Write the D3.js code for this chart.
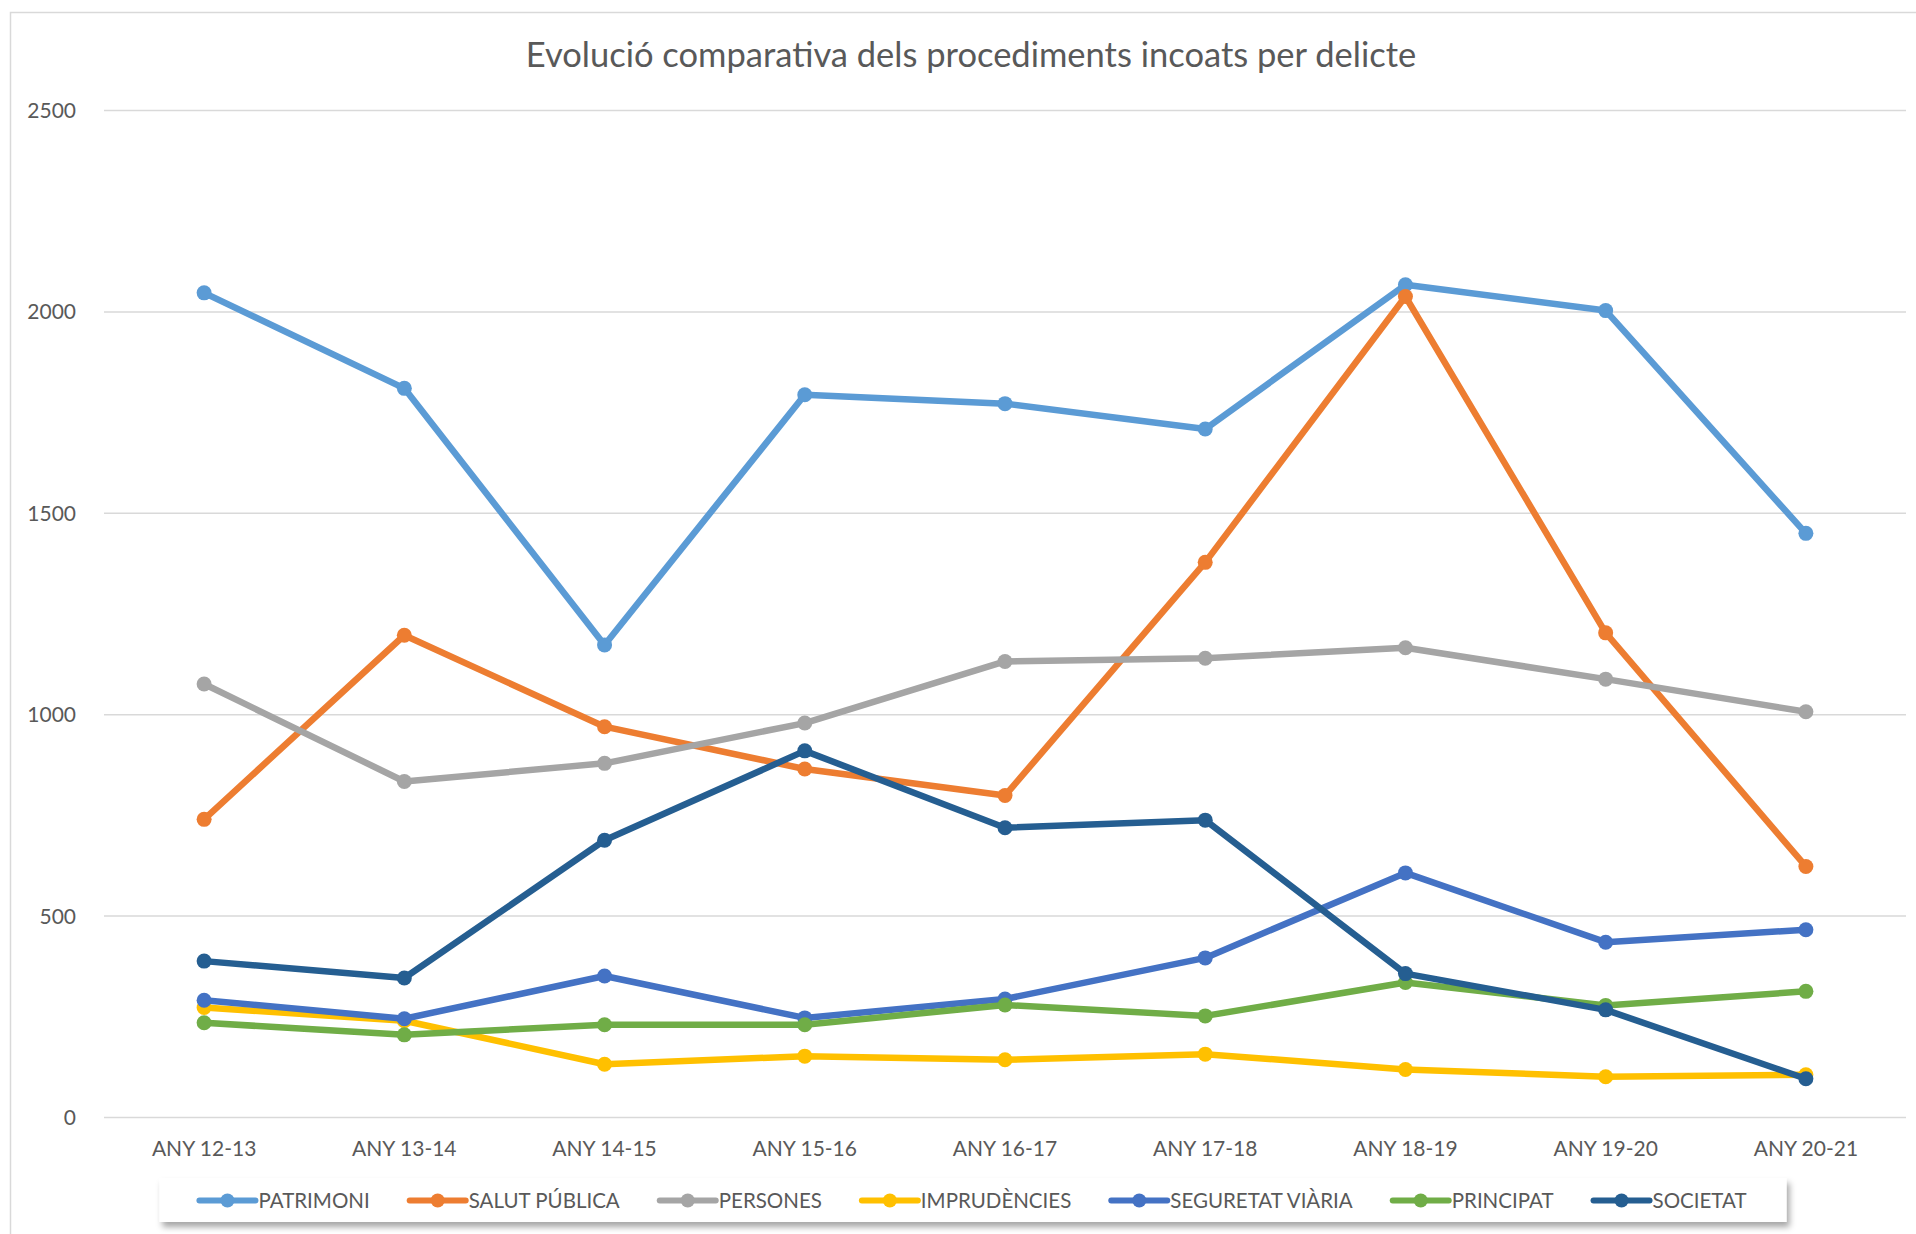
<!DOCTYPE html>
<html>
<head>
<meta charset="utf-8">
<script src="https://cdn.jsdelivr.net/npm/d3@7"></script>
<style>
  body { margin: 0; background: #fff; }
  text { font-family: Lato, "Open Sans", sans-serif; fill: #595959; }
</style>
</head>
<body>
<svg id="chart"></svg>
<script>
// categories (school years) and one array per offence type
const years = ["ANY 12-13", "ANY 13-14", "ANY 14-15", "ANY 15-16", "ANY 16-17", "ANY 17-18", "ANY 18-19", "ANY 19-20", "ANY 20-21"];

const patrimoni = [2046, 1809, 1172, 1793, 1771, 1708, 2066, 2002, 1449];
const salutPublica = [739, 1196, 969, 864, 798, 1377, 2037, 1202, 622];
const persones = [1075, 833, 878, 978, 1131, 1139, 1165, 1087, 1006];
const imprudencies = [272, 239, 131, 151, 142, 156, 118, 100, 105];
const seguretatViaria = [290, 244, 350, 246, 293, 395, 606, 434, 465];
const principat = [234, 204, 229, 229, 278, 251, 334, 277, 312];
const societat = [387, 345, 687, 909, 718, 737, 356, 266, 95];

const seriesNames = ["PATRIMONI", "SALUT PÚBLICA", "PERSONES", "IMPRUDÈNCIES", "SEGURETAT VIÀRIA", "PRINCIPAT", "SOCIETAT"];
const seriesValues = [patrimoni, salutPublica, persones, imprudencies, seguretatViaria, principat, societat];
const seriesColors = ["#5B9BD5", "#ED7D31", "#A5A5A5", "#FFC000", "#4472C4", "#70AD47", "#255E91"];

const yTicks = [0, 500, 1000, 1500, 2000, 2500];

const series = seriesNames.map((name, i) => ({
    name: name,
    color: seriesColors[i],
    values: seriesValues[i].map((v, j) => ({ year: years[j], value: v }))
}));

// dimensions
const W = 1916, H = 1234;
const plot = { left: 104, right: 1906, top: 110, bottom: 1117 };

const svg = d3.select("#chart")
    .attr("width", W)
    .attr("height", H);

svg.append("rect")
    .attr("width", W).attr("height", H)
    .attr("fill", "#fff");

// chart area border (runs off the right and bottom edge)
svg.append("rect")
    .attr("x", 10.5).attr("y", 12.5)
    .attr("width", 1930).attr("height", 1240)
    .attr("fill", "none")
    .attr("stroke", "#D9D9D9")
    .attr("stroke-width", 1.5);

// title
svg.append("text")
    .attr("x", 971)
    .attr("y", 67)
    .attr("text-anchor", "middle")
    .style("font-size", "34.5px")
    .text("Evolució comparativa dels procediments incoats per delicte");

// scales
const x = d3.scaleBand()
    .domain(years)
    .range([plot.left, plot.right])
    .padding(0);

const y = d3.scaleLinear()
    .domain([0, 2500])
    .range([plot.bottom, plot.top]);

const xc = d => x(d) + x.bandwidth() / 2;

// y axis with gridlines
const yAxis = svg.append("g")
    .attr("transform", `translate(${plot.left},0)`)
    .call(d3.axisLeft(y).tickValues(yTicks).tickFormat(d3.format("d"))
        .tickSize(-(plot.right - plot.left)).tickPadding(28));
yAxis.select(".domain").remove();
yAxis.selectAll("line").attr("stroke", "#D9D9D9").attr("stroke-width", 1.5);
yAxis.selectAll("text").attr("fill", "#595959").style("font-size", "21px")
    .style("font-family", "Lato, 'Open Sans', sans-serif").attr("dy", "0.36em");

// x axis labels
const xAxis = svg.append("g")
    .attr("transform", `translate(0,${plot.bottom})`)
    .call(d3.axisBottom(x).tickSize(0).tickPadding(24));
xAxis.select(".domain").remove();
xAxis.selectAll("text").attr("fill", "#595959").style("font-size", "21px")
    .style("font-family", "Lato, 'Open Sans', sans-serif");

// lines
const line = d3.line()
    .x(d => xc(d.year))
    .y(d => y(d.value));

const seriesG = svg.append("g")
    .selectAll("g")
    .data(series)
    .join("g");

seriesG.append("path")
    .attr("d", d => line(d.values))
    .attr("fill", "none")
    .attr("stroke", d => d.color)
    .attr("stroke-width", 6.5)
    .attr("stroke-linejoin", "round")
    .attr("stroke-linecap", "round");

seriesG.selectAll("circle")
    .data(d => d.values.map(v => ({ ...v, color: d.color })))
    .join("circle")
    .attr("cx", d => xc(d.year))
    .attr("cy", d => y(d.value))
    .attr("r", 7.5)
    .attr("fill", d => d.color);

// legend
const defs = svg.append("defs");
const shadow = defs.append("filter").attr("id", "shadow")
    .attr("x", "-5%").attr("y", "-30%").attr("width", "110%").attr("height", "180%");
shadow.append("feDropShadow")
    .attr("dx", 3).attr("dy", 5).attr("stdDeviation", 3)
    .attr("flood-color", "#000").attr("flood-opacity", 0.35);

const legendBox = svg.append("rect")
    .attr("fill", "#fff")
    .attr("filter", "url(#shadow)");

const legend = svg.append("g");
const legendY = 1200.5;
const lineLen = 56, textGap = 3, itemGap = 40;
let cumulativeWidth = 0;

legend.selectAll("g")
    .data(series)
    .join("g")
    .each(function (d) {
        const g = d3.select(this);
        g.append("line")
            .attr("x1", 0).attr("x2", lineLen)
            .attr("y1", 0).attr("y2", 0)
            .attr("stroke", d.color)
            .attr("stroke-width", 6)
            .attr("stroke-linecap", "round");
        g.append("circle")
            .attr("cx", lineLen / 2).attr("cy", 0)
            .attr("r", 7)
            .attr("fill", d.color);
        const t = g.append("text")
            .attr("x", lineLen + textGap)
            .attr("dy", "0.36em")
            .style("font-size", "20.5px")
            .text(d.name);
        g.attr("transform", `translate(${cumulativeWidth},${legendY})`);
        cumulativeWidth += lineLen + textGap + t.node().getComputedTextLength() + itemGap;
    });

const legendWidth = cumulativeWidth - itemGap;
const legendStart = 973 - legendWidth / 2;
legend.attr("transform", `translate(${legendStart},0)`);

legendBox
    .attr("x", legendStart - 40)
    .attr("y", 1178)
    .attr("width", legendWidth + 80)
    .attr("height", 44);
</script>
</body>
</html>
